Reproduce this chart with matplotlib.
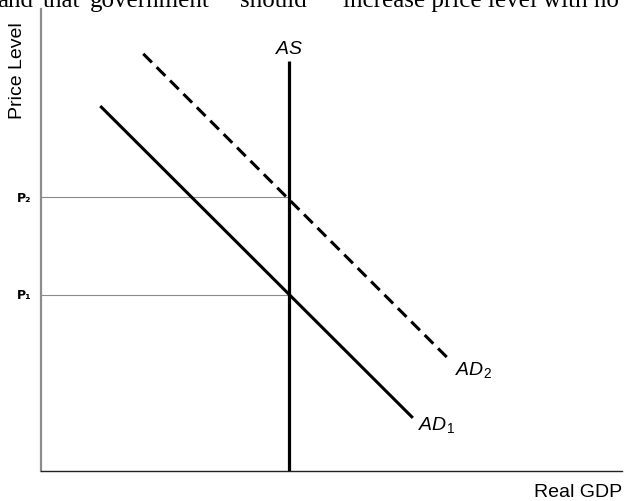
import matplotlib.pyplot as plt

# AS / AD diagram, values in chart units (0-100 on both axes)
as_x = 42.7
as_top = 88.7
ad1_x = [10.2, 64.0]
ad1_y = [79.0, 11.5]
ad2_x = [17.6, 70.2]
ad2_y = [90.3, 24.2]
price_levels = [38.1, 59.3]
price_labels = ['P\u2081', 'P\u2082']

# clipped line of text above the figure (words, left x in px)
top_words = [('and', -3), ('that', 43), ('government', 90), ('should', 240),
             ('increase price level with no', 343)]

plt.rcParams['mathtext.fontset'] = 'custom'
plt.rcParams['mathtext.rm'] = 'Liberation Sans'
plt.rcParams['mathtext.it'] = 'Liberation Sans:italic'

W, H = 630, 502
fig = plt.figure(figsize=(W / 100, H / 100), dpi=100)
ax = fig.add_axes([41 / W, 30 / H, 581 / W, 462 / H])
ax.set_xlim(0, 100)
ax.set_ylim(0, 100)


def px(x, y):
    # pixel position (from top-left) -> figure fraction
    return x / W, 1 - y / H


# guide lines for the price levels
for p in price_levels:
    ax.plot([0, as_x], [p, p], color='#8a8a8a', lw=0.8, zorder=1)

ax.plot([as_x, as_x], [0, as_top], color='black', lw=2.3, solid_capstyle='butt', zorder=3)
ax.plot(ad1_x, ad1_y, color='black', lw=2.2, solid_capstyle='butt', zorder=3)
ax.plot(ad2_x, ad2_y, color='black', lw=2.2, linestyle=(0, (4, 2.2)), zorder=3)

ax.set_xticks([])
ax.set_yticks([])
for s in ['top', 'right']:
    ax.spines[s].set_visible(False)
ax.spines['left'].set_color('#8c8c8c')
ax.spines['left'].set_linewidth(1.6)
ax.spines['bottom'].set_color('#222222')
ax.spines['bottom'].set_linewidth(1.0)

for p, lab in zip(price_levels, price_labels):
    ax.text(-24 * 100 / 581, p, lab, ha='left', va='center',
            fontsize=9, fontweight='bold', family='DejaVu Sans')

ax.text(as_x, 100 * (472 - 48) / 462, '$AS$', ha='center', va='center', fontsize=14)
fig.text(*px(455, 370), '$AD_2$', ha='left', va='center', fontsize=14)
fig.text(*px(418, 425), '$AD_1$', ha='left', va='center', fontsize=14)
fig.text(*px(622, 493), 'Real GDP', ha='right', va='center', fontsize=14,
         family='Liberation Sans')
fig.text(*px(18, 71), 'Price Level', ha='center', va='center', rotation=90,
         fontsize=14, family='Liberation Sans')

for word, x in top_words:
    fig.text(*px(x, 7), word, ha='left', va='baseline', fontsize=18,
             family='Liberation Serif')

fig.savefig('out.png', dpi=100)
